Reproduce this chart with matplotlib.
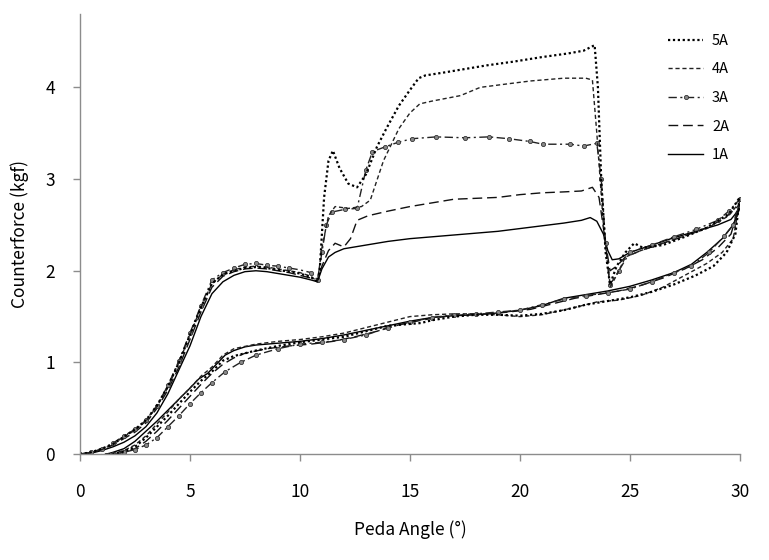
import matplotlib
matplotlib.use("Agg")
import matplotlib.pyplot as plt

plt.rcParams['font.family'] = ['Noto Sans CJK KR', 'DejaVu Sans']

# ---- data (upper path 0 -> 30, then return path 30 -> 0) ----
x_left = [0, 0.5, 1, 1.5, 2, 2.5, 3, 3.5, 4, 4.5, 5, 5.5, 6, 6.5, 7, 7.5, 8, 8.5, 9, 9.5, 10, 10.5, 10.8]

# 1A
y1_left = [0, 0.01, 0.04, 0.08, 0.13, 0.2, 0.3, 0.45, 0.66, 0.92, 1.18, 1.5, 1.75, 1.88, 1.95, 1.99, 2.0, 1.99, 1.97, 1.95, 1.93, 1.9, 1.88]
x1_mid = [11.0, 11.3, 11.6, 12, 13, 14, 15, 16, 17, 18, 19, 20, 21, 22, 22.8, 23.2, 23.5, 23.8, 24.0, 24.2, 24.5, 25, 26, 27, 28, 29, 29.6, 30]
y1_mid = [2.02, 2.15, 2.2, 2.24, 2.28, 2.32, 2.35, 2.37, 2.39, 2.41, 2.43, 2.46, 2.49, 2.52, 2.55, 2.58, 2.54, 2.4, 2.22, 2.12, 2.13, 2.2, 2.28, 2.36, 2.43, 2.5, 2.56, 2.68]
x1_ret = [29.7, 29.2, 28.5, 27.8, 27, 26, 25, 24, 23, 22, 21, 20, 19, 18, 17, 16, 15, 14, 13, 12, 11, 10, 9, 8, 7.5, 7, 6.6, 6.2, 5.8, 5.4, 5, 4.5, 4, 3.5, 3, 2.5, 2, 1.5, 1.2]
y1_ret = [2.5, 2.35, 2.2, 2.07, 1.98, 1.9, 1.83, 1.78, 1.74, 1.7, 1.62, 1.57, 1.54, 1.52, 1.51, 1.49, 1.45, 1.4, 1.35, 1.3, 1.26, 1.23, 1.21, 1.19, 1.17, 1.13, 1.08, 0.98, 0.88, 0.82, 0.72, 0.6, 0.48, 0.36, 0.25, 0.14, 0.06, 0.02, 0]

# 2A
y2_left = [0, 0.02, 0.05, 0.1, 0.17, 0.24, 0.34, 0.5, 0.7, 0.95, 1.25, 1.55, 1.82, 1.94, 1.99, 2.02, 2.03, 2.02, 2.0, 1.98, 1.95, 1.92, 1.88]
x2_mid = [11.0, 11.3, 11.6, 12.0, 12.3, 12.6, 13.1, 14, 15, 16, 17, 18, 19, 20, 21, 22, 22.8, 23.3, 23.6, 23.9, 24.1, 24.4, 24.8, 25.5, 26.5, 27.5, 28.5, 29.3, 30]
y2_mid = [2.05, 2.22, 2.3, 2.26, 2.35, 2.55, 2.6, 2.65, 2.7, 2.74, 2.78, 2.79, 2.8, 2.83, 2.85, 2.86, 2.87, 2.91, 2.8, 2.3, 2.0, 2.05, 2.15, 2.22, 2.3, 2.38, 2.47, 2.57, 2.72]
x2_ret = [29.6, 29, 28.3, 27.5, 26.5, 25.5, 24.5, 23.5, 22.5, 21.5, 20.5, 19.5, 18.5, 17.5, 16.5, 15.5, 14.5, 13.5, 12.5, 11.5, 10.5, 9.5, 8.5, 7.5, 7, 6.5, 6, 5.5, 5, 4.5, 4, 3.5, 3, 2.5, 2, 1.5]
y2_ret = [2.4, 2.25, 2.12, 2.02, 1.92, 1.84, 1.78, 1.74, 1.7, 1.64, 1.58, 1.55, 1.53, 1.52, 1.5, 1.46, 1.41, 1.34, 1.28, 1.23, 1.2, 1.18, 1.15, 1.1, 1.05, 0.98, 0.88, 0.76, 0.63, 0.5, 0.37, 0.25, 0.14, 0.06, 0.02, 0]

# 3A
y3_left = [0, 0.02, 0.06, 0.12, 0.2, 0.27, 0.37, 0.53, 0.75, 1.02, 1.32, 1.62, 1.9, 1.98, 2.03, 2.07, 2.08, 2.06, 2.05, 2.03, 2.01, 1.98, 1.9]
x3_mid = [11.0, 11.2, 11.45, 12.05, 12.6, 13.0, 13.3, 13.86, 14.45, 15.1, 16.2, 17.5, 18.6, 19.5, 20.45, 21.05, 22.3, 22.9, 23.5, 23.7, 23.9, 24.1, 24.5, 25, 26, 27, 28, 29, 29.5, 30]
y3_mid = [2.2, 2.5, 2.64, 2.67, 2.68, 3.1, 3.3, 3.35, 3.4, 3.44, 3.46, 3.45, 3.46, 3.44, 3.41, 3.38, 3.38, 3.36, 3.39, 3.0, 2.3, 1.85, 2.0, 2.2, 2.28, 2.37, 2.45, 2.55, 2.65, 2.78]
x3_ret = [29.7, 29.3, 28.6, 27.8, 27, 26, 25, 24, 23, 22, 21, 20, 19, 18, 17, 16, 15, 14, 13, 12, 11, 10, 9, 8, 7.3, 6.6, 6, 5.5, 5, 4.5, 4, 3.5, 3, 2.5, 2, 1.5]
y3_ret = [2.5, 2.38, 2.2, 2.05, 1.98, 1.88, 1.8, 1.76, 1.73, 1.69, 1.63, 1.57, 1.55, 1.53, 1.52, 1.49, 1.44, 1.38, 1.3, 1.25, 1.22, 1.2, 1.15, 1.08, 1.0, 0.9, 0.78, 0.67, 0.55, 0.42, 0.3, 0.18, 0.1, 0.05, 0.02, 0]

# 4A
y4_left = [0, 0.02, 0.05, 0.11, 0.19, 0.26, 0.36, 0.52, 0.73, 1.0, 1.3, 1.6, 1.86, 1.96, 2.01, 2.04, 2.05, 2.04, 2.02, 2.0, 1.98, 1.94, 1.88]
x4_mid = [11.0, 11.3, 11.6, 12.2, 12.8, 13.2, 13.8, 14.5, 15.0, 15.45, 16, 17.3, 18.2, 19.5, 20.5, 22, 23.0, 23.3, 23.5, 23.8, 24.1, 24.4, 24.8, 25.5, 26.5, 27.5, 28.5, 29.5, 30]
y4_mid = [2.25, 2.6, 2.7, 2.68, 2.7, 2.77, 3.2, 3.55, 3.72, 3.82, 3.85, 3.91, 4.0, 4.04, 4.07, 4.1, 4.1, 4.08, 3.5, 2.5, 1.82, 1.95, 2.15, 2.22, 2.3, 2.38, 2.46, 2.6, 2.75]
x4_ret = [29.7, 29.2, 28.5, 27.5, 26.5, 25.5, 24.5, 23.5, 22.5, 21, 20, 19, 18, 17, 16, 15, 14, 13, 12, 11, 10, 9, 8, 7, 6.5, 6, 5.5, 5, 4.5, 4, 3.5, 3, 2.5, 2, 1.5, 1]
y4_ret = [2.35, 2.2, 2.08, 1.95, 1.82, 1.73, 1.68, 1.66, 1.6, 1.52, 1.5, 1.52, 1.53, 1.53, 1.52, 1.5, 1.44, 1.38, 1.32, 1.28, 1.25, 1.23, 1.2, 1.15, 1.08, 0.95, 0.85, 0.72, 0.6, 0.46, 0.33, 0.2, 0.1, 0.04, 0.01, 0]

# 5A
y5_left = [0, 0.02, 0.06, 0.11, 0.19, 0.27, 0.37, 0.53, 0.74, 1.0, 1.3, 1.6, 1.86, 1.96, 2.0, 2.03, 2.04, 2.03, 2.01, 1.99, 1.97, 1.93, 1.88]
x5_mid = [10.9, 11.1, 11.3, 11.5, 11.8, 12.2, 12.6, 13.0, 13.5, 13.95, 14.5, 15, 15.4, 15.7, 16.5, 17.5, 18.5, 19.7, 21, 22.2, 22.9, 23.4, 23.55, 23.7, 23.9, 24.1, 24.4, 24.8, 25.2, 25.6, 26.5, 27.5, 28.5, 29.5, 30]
y5_mid = [2.0, 2.8, 3.2, 3.31, 3.12, 2.95, 2.91, 3.05, 3.35, 3.56, 3.8, 3.97, 4.1, 4.13, 4.16, 4.2, 4.24, 4.28, 4.33, 4.37, 4.4, 4.46, 4.0, 3.0, 2.2, 1.85, 2.05, 2.2, 2.3, 2.25, 2.28, 2.37, 2.47, 2.62, 2.8]
x5_ret = [29.8, 29.4, 28.8, 28, 27, 26, 25, 24, 23, 22, 21, 20, 19, 18, 17, 16, 15.5, 15, 14, 13, 12, 11, 10, 9, 8, 7, 6.5, 6, 5.5, 5, 4.5, 4, 3.5, 3, 2.5, 2, 1.5]
y5_ret = [2.4, 2.2, 2.05, 1.95, 1.85, 1.77, 1.71, 1.67, 1.63, 1.57, 1.53, 1.51, 1.52, 1.52, 1.5, 1.46, 1.43, 1.42, 1.4, 1.34, 1.28, 1.25, 1.22, 1.18, 1.13, 1.07, 1.02, 0.9, 0.8, 0.68, 0.55, 0.42, 0.3, 0.18, 0.08, 0.03, 0]

labels = ['5A', '4A', '3A', '2A', '1A']
y_ticks = [0, 1, 2, 3, 4]
x_ticks = [0, 5, 10, 15, 20, 25, 30]

series = {
    '1A': (x_left + x1_mid + x1_ret, y1_left + y1_mid + y1_ret),
    '2A': (x_left + x2_mid + x2_ret, y2_left + y2_mid + y2_ret),
    '3A': (x_left + x3_mid + x3_ret, y3_left + y3_mid + y3_ret),
    '4A': (x_left + x4_mid + x4_ret, y4_left + y4_mid + y4_ret),
    '5A': (x_left + x5_mid + x5_ret, y5_left + y5_mid + y5_ret),
}

styles = {
    '5A': dict(color='black', lw=1.6, ls=(0, (1, 1.2))),
    '4A': dict(color='#222222', lw=1.0, ls=(0, (3, 2))),
    '3A': dict(color='#222222', lw=1.0, ls=(0, (6, 2.5, 1.5, 2.5)), marker='o', ms=3.0,
               mfc='#888888', mec='#333333', mew=0.6, markevery=0.016),
    '2A': dict(color='#111111', lw=1.0, ls=(0, (7, 3.5))),
    '1A': dict(color='black', lw=1.0, ls='-'),
}

fig = plt.figure(figsize=(7.69, 5.6), dpi=100)
ax = fig.add_axes([0.104, 0.189, 0.858, 0.786])

handles = {}
for name in ['1A', '2A', '3A', '4A', '5A']:
    xs, ys = series[name]
    h, = ax.plot(xs, ys, label=name, **styles[name])
    handles[name] = h

ax.set_xlim(0, 30)
ax.set_ylim(0, 4.8)
ax.set_xticks(x_ticks)
ax.set_yticks(y_ticks)
ax.set_xticklabels([str(v) for v in x_ticks])
ax.set_yticklabels([str(v) for v in y_ticks])

for s in ['top', 'right']:
    ax.spines[s].set_visible(False)
for s in ['left', 'bottom']:
    ax.spines[s].set_color('#8c8c8c')
    ax.spines[s].set_linewidth(1.0)

ax.tick_params(axis='both', direction='out', length=5, width=1, color='#8c8c8c', labelsize=12.5)
ax.tick_params(axis='y', pad=13)
ax.tick_params(axis='x', pad=16)

ax.set_xlabel('Peda Angle (°)', fontsize=12.5, labelpad=14)
ax.set_ylabel('Counterforce (kgf)', fontsize=12.5, labelpad=12)

leg = ax.legend([handles[l] for l in labels], labels, loc='upper left',
                bbox_to_anchor=(0.852, 0.963), bbox_transform=fig.transFigure,
                frameon=False, fontsize=10.5, handlelength=2.4, handletextpad=0.6,
                labelspacing=1.0, numpoints=1)
for lh in leg.legend_handles:
    if lh.get_marker() not in (None, 'None', ''):
        lh.set_markevery([1])

fig.savefig('out.png', dpi=100)
